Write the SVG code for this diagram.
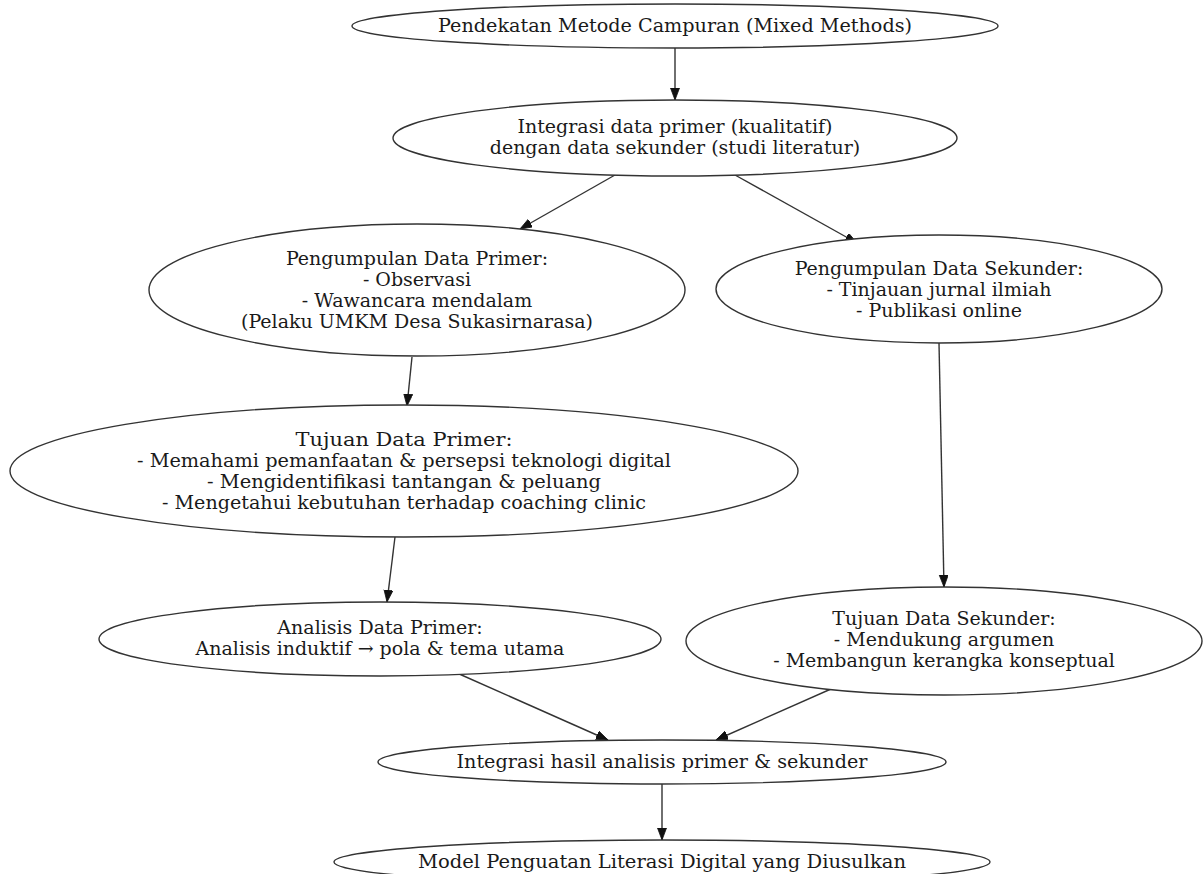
<svg xmlns="http://www.w3.org/2000/svg" width="1203" height="874" viewBox="0 0 1203 874">
<style>
.n ellipse{fill:#fff;stroke:#333;stroke-width:1.4}
.n text{font-family:"DejaVu Serif","Liberation Serif",serif;font-size:19px;fill:#1a1a1a;text-anchor:middle}
#edges line{stroke:#333;stroke-width:1.4;fill:none}
</style>
<defs>
<marker id="ah" markerUnits="userSpaceOnUse" markerWidth="13" markerHeight="10" refX="12" refY="4.5" orient="auto">
<path d="M0,0 L12,4.5 L0,9 z" fill="#111" stroke="#111" stroke-width="0.8"/>
</marker>
</defs>
<rect width="1203" height="874" fill="#fff"/>
<g id="edges">
<line x1="675" y1="48" x2="675" y2="100" marker-end="url(#ah)"/>
<line x1="615" y1="175" x2="520" y2="229" marker-end="url(#ah)"/>
<line x1="735" y1="175" x2="857" y2="243" marker-end="url(#ah)"/>
<line x1="412" y1="357" x2="407" y2="406" marker-end="url(#ah)"/>
<line x1="939" y1="343" x2="944" y2="587" marker-end="url(#ah)"/>
<line x1="395" y1="537" x2="387" y2="602" marker-end="url(#ah)"/>
<line x1="457" y1="673" x2="608" y2="740" marker-end="url(#ah)"/>
<line x1="840" y1="685" x2="716" y2="740" marker-end="url(#ah)"/>
<line x1="662" y1="784" x2="662" y2="840" marker-end="url(#ah)"/>
</g>
<g id="n1" class="n">
<ellipse cx="675" cy="26" rx="323" ry="22"/>
<text x="675" y="32" textLength="474" lengthAdjust="spacingAndGlyphs">Pendekatan Metode Campuran (Mixed Methods)</text>
</g>
<g id="n2" class="n">
<ellipse cx="675" cy="138" rx="282" ry="38"/>
<text x="675" y="133">Integrasi data primer (kualitatif)</text>
<text x="675" y="154">dengan data sekunder (studi literatur)</text>
</g>
<g id="n3" class="n">
<ellipse cx="417" cy="290" rx="268" ry="66"/>
<text x="417" y="265">Pengumpulan Data Primer:</text>
<text x="417" y="286">- Observasi</text>
<text x="417" y="307">- Wawancara mendalam</text>
<text x="417" y="328">(Pelaku UMKM Desa Sukasirnarasa)</text>
</g>
<g id="n4" class="n">
<ellipse cx="939" cy="289" rx="223" ry="54"/>
<text x="939" y="275">Pengumpulan Data Sekunder:</text>
<text x="939" y="296">- Tinjauan jurnal ilmiah</text>
<text x="939" y="317">- Publikasi online</text>
</g>
<g id="n5" class="n">
<ellipse cx="404" cy="471" rx="394" ry="66"/>
<text x="404" y="446" textLength="217" lengthAdjust="spacingAndGlyphs">Tujuan Data Primer:</text>
<text x="404" y="467" textLength="534" lengthAdjust="spacingAndGlyphs">- Memahami pemanfaatan &amp; persepsi teknologi digital</text>
<text x="404" y="488" textLength="394" lengthAdjust="spacingAndGlyphs">- Mengidentifikasi tantangan &amp; peluang</text>
<text x="404" y="509" textLength="484" lengthAdjust="spacingAndGlyphs">- Mengetahui kebutuhan terhadap coaching clinic</text>
</g>
<g id="n6" class="n">
<ellipse cx="380" cy="639" rx="281" ry="37"/>
<text x="380" y="634">Analisis Data Primer:</text>
<text x="380" y="655">Analisis induktif → pola &amp; tema utama</text>
</g>
<g id="n7" class="n">
<ellipse cx="944" cy="641" rx="258" ry="54"/>
<text x="944" y="625">Tujuan Data Sekunder:</text>
<text x="944" y="646">- Mendukung argumen</text>
<text x="944" y="667">- Membangun kerangka konseptual</text>
</g>
<g id="n8" class="n">
<ellipse cx="662" cy="762" rx="284" ry="22"/>
<text x="662" y="768" textLength="411" lengthAdjust="spacingAndGlyphs">Integrasi hasil analisis primer &amp; sekunder</text>
</g>
<g id="n9" class="n">
<ellipse cx="662" cy="862" rx="328" ry="22"/>
<text x="662" y="868" textLength="488" lengthAdjust="spacingAndGlyphs">Model Penguatan Literasi Digital yang Diusulkan</text>
</g>
</svg>
